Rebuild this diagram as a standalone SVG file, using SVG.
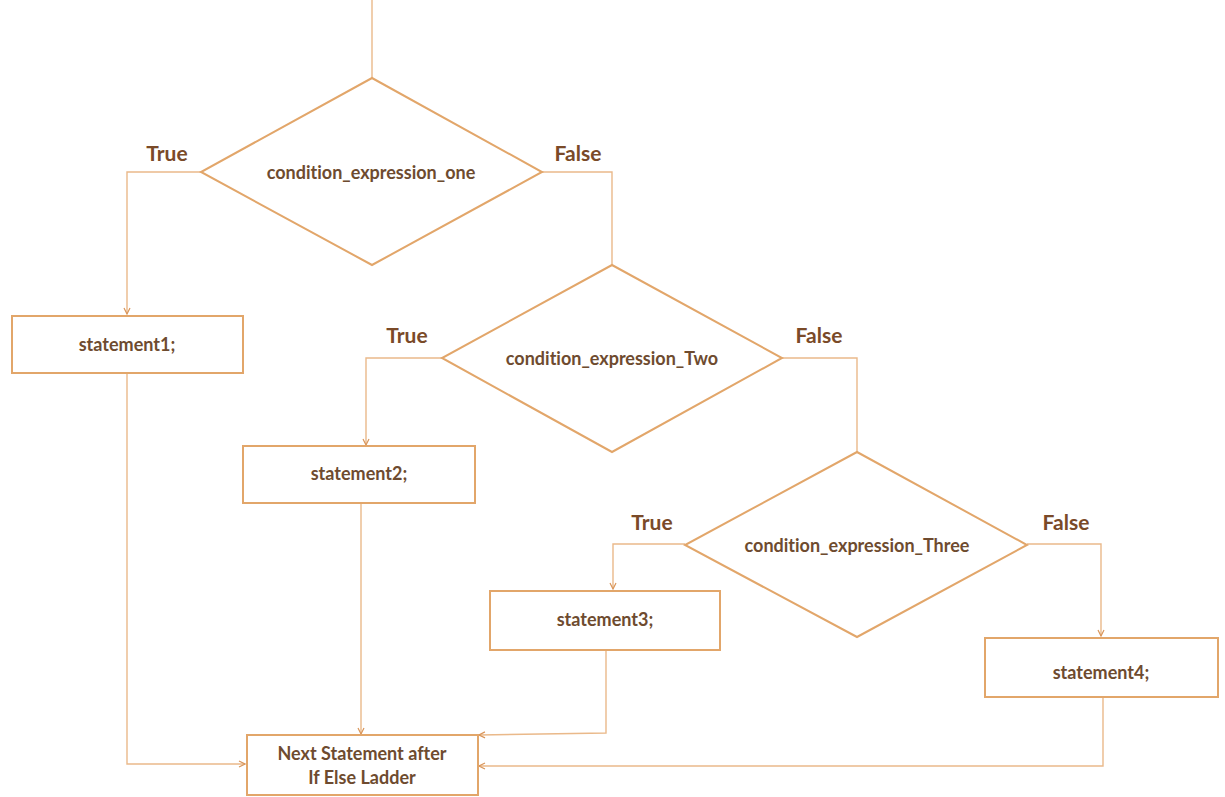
<svg xmlns="http://www.w3.org/2000/svg" width="1225" height="797" viewBox="0 0 1225 797">
<style>
.shape{fill:#ffffff;stroke:#e2a66a;stroke-width:2}
.conn{fill:none;stroke:#eab98a;stroke-width:1.4}
.t{font-family:Lato,"Open Sans",sans-serif;font-weight:bold;font-size:18px;fill:#6e4b2f;text-anchor:middle;font-variant-ligatures:none;font-feature-settings:"liga" 0,"dlig" 0}
.lbl{font-family:Lato,"Open Sans",sans-serif;font-weight:bold;font-size:21px;fill:#7a4a28;text-anchor:middle}
</style>
<defs>
<marker id="arr" markerWidth="8" markerHeight="8" refX="7" refY="4" orient="auto" markerUnits="userSpaceOnUse">
<path d="M1,1 L7,4 L1,7" fill="none" stroke="#d9955a" stroke-width="1.2"/>
</marker>
</defs>
<rect width="1225" height="797" fill="#ffffff"/>
<g id="connectors">
<path class="conn" d="M372,0 L372,78"/>
<path class="conn" d="M201,172 L127,172 L127,314" marker-end="url(#arr)"/>
<path class="conn" d="M542,172 L612,172 L612,265"/>
<path class="conn" d="M442,358 L366,358 L366,445" marker-end="url(#arr)"/>
<path class="conn" d="M782,358 L857,358 L857,452"/>
<path class="conn" d="M685,544 L613,544 L613,589" marker-end="url(#arr)"/>
<path class="conn" d="M1027,544 L1101,544 L1101,636" marker-end="url(#arr)"/>
<path class="conn" d="M127,373 L127,764 L245,764" marker-end="url(#arr)"/>
<path class="conn" d="M361,503 L361,734" marker-end="url(#arr)"/>
<path class="conn" d="M606,650 L606,733 L479,735" marker-end="url(#arr)"/>
<path class="conn" d="M1103,697 L1103,766 L479,766" marker-end="url(#arr)"/>
</g>
<g id="labels">
<text class="lbl" x="167" y="161">True</text>
<text class="lbl" x="578" y="161">False</text>
<text class="lbl" x="407" y="343">True</text>
<text class="lbl" x="819" y="343">False</text>
<text class="lbl" x="652" y="530">True</text>
<text class="lbl" x="1066" y="530">False</text>
</g>
<g id="cond1">
<polygon class="shape" points="372,78 542,172 372,265 201,172"/>
<text class="t" x="371" y="179">condition_expression_one</text>
</g>
<g id="cond2">
<polygon class="shape" points="612,265 782,358 612,452 442,358"/>
<text class="t" x="612" y="365">condition_expression_Two</text>
</g>
<g id="cond3">
<polygon class="shape" points="857,452 1027,545 857,637 685,545"/>
<text class="t" x="857" y="552">condition_expression_Three</text>
</g>
<g id="stmt1">
<rect class="shape" x="12" y="316" width="231" height="57"/>
<text class="t" x="127" y="351">statement1;</text>
</g>
<g id="stmt2">
<rect class="shape" x="243" y="446" width="232" height="57"/>
<text class="t" x="359" y="480">statement2;</text>
</g>
<g id="stmt3">
<rect class="shape" x="490" y="591" width="230" height="59"/>
<text class="t" x="605" y="626">statement3;</text>
</g>
<g id="stmt4">
<rect class="shape" x="985" y="638" width="233" height="59"/>
<text class="t" x="1101" y="679">statement4;</text>
</g>
<g id="next">
<rect class="shape" x="247" y="735" width="231" height="60"/>
<text class="t" x="362" y="760">Next Statement after</text>
<text class="t" x="362" y="784">If Else Ladder</text>
</g>
</svg>
